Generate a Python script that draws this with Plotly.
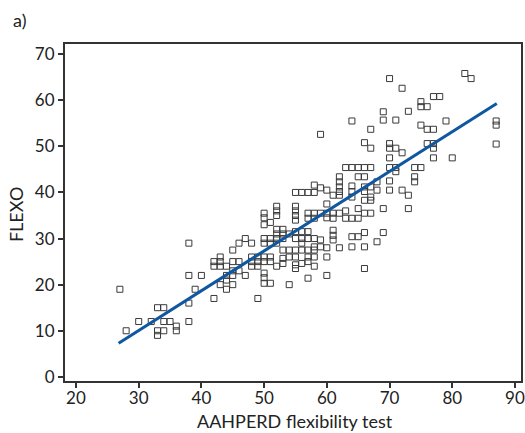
import plotly.graph_objects as go

# AAHPERD flexibility test (x) vs FLEXO (y)
aahperd = [
    27, 28, 30, 32, 33, 34, 33, 34, 33, 34, 35, 36, 36, 38, 38, 38, 38, 40, 39, 42, 42, 42, 43, 43, 43, 44,
    43, 44, 44, 45, 44,
    45, 46, 45, 45, 46, 45, 47, 46, 47, 48, 48, 49, 49, 48, 48, 49, 49,
    50, 50, 50, 51, 52, 52, 52, 50, 50, 51, 51, 52, 52, 53, 50, 51, 51, 50, 50, 50, 50, 51, 52, 53, 53, 52,
    53, 54, 53, 53, 52, 54, 54, 54,
    55, 56, 57, 58, 58, 55, 55, 55, 55, 57, 58, 57, 58, 55, 56, 57, 55, 56, 57, 58, 55, 56, 57, 58, 55, 57,
    58, 55, 56, 57, 55, 57, 58, 56, 58,
    59, 59, 60, 61, 62, 60, 59, 60, 60, 61, 61, 62, 61, 61, 61, 59, 59, 60, 62, 62, 62, 62, 60, 62, 60,
    63, 64, 65, 66, 67, 65, 66, 64, 64, 64, 64, 66, 66, 67, 67, 66, 67, 63, 64, 65, 66, 67, 64, 65, 66, 64,
    66, 66, 67, 66, 67, 63, 65,
    68, 68, 68, 69, 69, 69, 69, 70, 70, 70, 71, 72, 70, 70, 71, 71, 70, 70, 72, 73, 73, 71, 73, 72,
    74, 75, 74, 74, 75, 76, 75, 77, 78, 75, 76, 77, 79, 76, 77, 77, 77, 80,
    82, 83, 87, 87, 87,
]
flexo = [
    19, 10, 12, 12, 15, 15, 10, 10, 9, 12, 12, 11, 10, 12, 16, 29, 22, 22, 19, 17, 25, 24, 26, 25, 24, 24,
    20, 21, 22, 20, 19,
    25, 25, 27.5, 23, 23, 22, 22, 29, 30, 29, 25, 25, 24, 24, 26, 26, 17,
    35.5, 34.5, 33, 33.5, 37, 36, 35, 30, 29, 30, 29, 30, 29, 30, 26, 26, 25, 25, 22.5, 21.5, 20.3, 20.3, 32, 32, 31, 31,
    27.5, 27.5, 25.7, 24.6, 24, 20, 31, 26,
    40, 40, 40, 40, 41.6, 37, 36, 35, 34, 35.5, 35.5, 34.4, 34.4, 31.5, 31.5, 31.5, 30, 30, 30, 30, 27.5, 27.5, 27.5, 27.5, 26, 26,
    26, 23.5, 24.6, 21.4, 24.3, 25, 28.2, 29, 24,
    52.6, 41, 40.5, 39.4, 39.4, 37.5, 35.5, 35.5, 34.5, 35.5, 34.4, 35.5, 31.8, 30.7, 29.7, 29.7, 28.2, 22, 43.4, 42.3, 41.2, 40.2, 28, 28, 26,
    45.4, 45.4, 45.4, 45.4, 45.4, 43.4, 43.4, 55.5, 41.4, 40.2, 39, 41.2, 40.2, 41.2, 39, 38.3, 38.3, 34.4, 34.4, 34.4, 35.5, 35.5, 30.4, 30.4, 31.3, 28.2,
    28.2, 23.5, 53.7, 50.8, 49.6, 36, 36.5,
    42.3, 40.5, 29.3, 36.5, 31.3, 57.5, 55.7, 64.7, 50.6, 49.6, 49.6, 48.6, 47.5, 45.4, 45.4, 44.5, 42.5, 40.5, 40.5, 39.4, 36.5, 55.7, 57.6, 62.6,
    45.4, 45.4, 43.4, 42.3, 59.7, 58.6, 58.6, 60.8, 60.8, 54.6, 53.7, 53.7, 55.5, 50.6, 50.6, 49.6, 47.5, 47.5,
    65.8, 64.7, 55.5, 54.6, 50.5,
]

# fitted regression line endpoints
fit_x = [26.8, 87.1]
fit_y = [7.3, 59.3]

x_ticks = [20, 30, 40, 50, 60, 70, 80, 90]
y_ticks = [0, 10, 20, 30, 40, 50, 60, 70]

x_title = "AAHPERD flexibility test"
y_title = "FLEXO"
panel_label = "a)"

FONT = "Lato, 'Open Sans', sans-serif"
TXT = "#222"

fig = go.Figure()
fig.add_trace(go.Scatter(
    x=aahperd, y=flexo, mode="markers",
    marker=dict(symbol="square-open", size=6, color="#3a3a3a", line=dict(width=1, color="#3a3a3a")),
    showlegend=False, hoverinfo="x+y",
))
fig.add_trace(go.Scatter(
    x=fit_x, y=fit_y, mode="lines",
    line=dict(color="#0f57a0", width=3),
    showlegend=False, hoverinfo="skip",
))

fig.update_layout(
    width=525, height=433,
    margin=dict(l=65, r=4, t=44, b=52, autoexpand=False),
    paper_bgcolor="white", plot_bgcolor="white",
    font=dict(family=FONT, size=17, color=TXT),
    annotations=[
        dict(text=panel_label, xref="paper", yref="paper", x=-0.099, y=1.071,
             xanchor="center", yanchor="middle", showarrow=False,
             font=dict(family=FONT, size=18, color=TXT)),
        dict(text=x_title, xref="paper", yref="paper", x=0.504, y=-0.119,
             xanchor="center", yanchor="middle", showarrow=False,
             font=dict(family=FONT, size=18, color=TXT)),
        dict(text=y_title, xref="paper", yref="paper", x=-0.107, y=0.493, textangle=-90,
             xanchor="center", yanchor="middle", showarrow=False,
             font=dict(family=FONT, size=18, color=TXT)),
    ],
)
fig.update_xaxes(
    range=[18.25, 90.96], tickvals=x_ticks, ticktext=[str(v) for v in x_ticks],
    showgrid=False, zeroline=False, showline=True, linecolor="#333", linewidth=2, mirror=True,
    ticks="outside", ticklen=5, tickcolor="#333", tickwidth=1.5,
    ticklabelstandoff=-4, tickfont=dict(size=17),
)
fig.update_yaxes(
    range=[-0.9, 72.2], tickvals=y_ticks, ticktext=[str(v) for v in y_ticks],
    showgrid=False, zeroline=False, showline=True, linecolor="#333", linewidth=2, mirror=True,
    ticks="outside", ticklen=5, tickcolor="#333", tickwidth=1.5,
    tickfont=dict(size=17),
)

# remove the default page margin so the 525x433 figure fills the window exactly
fig.write_html(
    "out.html",
    config={"displayModeBar": False},
    post_script="document.body.style.margin='0';document.body.style.overflow='hidden';",
)
